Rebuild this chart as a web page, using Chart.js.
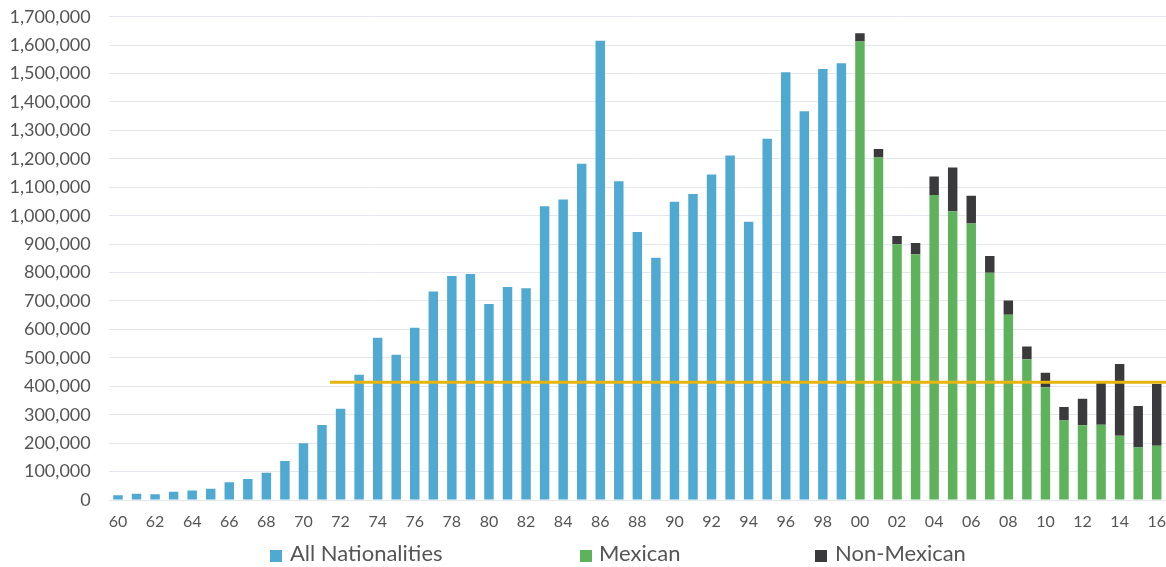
<!DOCTYPE html>
<html>
<head>
<meta charset="utf-8">
<script src="https://cdn.jsdelivr.net/npm/chart.js@4/dist/chart.umd.min.js"></script>
<style>
  html, body { margin: 0; padding: 0; background: #ffffff; }
  #wrap { position: relative; width: 1166px; height: 567px; }
  canvas { position: absolute; left: 0; top: 0; }
  .lg { position: absolute; top: 540px; font-family: Lato, "Open Sans", sans-serif; font-size: 22px; color: #555555; line-height: 26px; white-space: nowrap; }
  .lg i { position: absolute; top: 10px; width: 12px; height: 12px; }
</style>
</head>
<body>
<div id="wrap">
  <canvas id="c" width="1166" height="567"></canvas>
  <div class="lg" style="left:270px;"><i style="left:0;background:#4FA9D1;"></i><span style="margin-left:20px;">All Nationalities</span></div>
  <div class="lg" style="left:580px;"><i style="left:0;background:#5EB25B;"></i><span style="margin-left:19px;">Mexican</span></div>
  <div class="lg" style="left:815px;"><i style="left:0;background:#3A3A3D;"></i><span style="margin-left:20px;">Non-Mexican</span></div>
</div>
<script>
const years = ['60','61','62','63','64','65','66','67','68','69',
  '70','71','72','73','74','75','76','77','78','79',
  '80','81','82','83','84','85','86','87','88','89',
  '90','91','92','93','94','95','96','97','98','99',
  '00','01','02','03','04','05','06','07','08','09',
  '10','11','12','13','14','15','16'];

const allNationalities = [17000, 22000, 20000, 29000, 33000, 40000, 62000, 74000, 96000, 137000,
  200000, 264000, 321000, 441000, 571000, 511000, 606000, 733000, 788000, 795000,
  689000, 749000, 745000, 1033000, 1057000, 1183000, 1615000, 1121000, 943000, 852000,
  1049000, 1076000, 1145000, 1212000, 979000, 1271000, 1505000, 1367000, 1516000, 1536000,
  null, null, null, null, null, null, null, null, null, null,
  null, null, null, null, null, null, null];

const mexican = [null, null, null, null, null, null, null, null, null, null,
  null, null, null, null, null, null, null, null, null, null,
  null, null, null, null, null, null, null, null, null, null,
  null, null, null, null, null, null, null, null, null, null,
  1613000, 1205000, 900000, 864000, 1073000, 1016000, 973000, 799000, 652000, 495000,
  397000, 280000, 263000, 265000, 226000, 185000, 191000];

const nonMexican = [null, null, null, null, null, null, null, null, null, null,
  null, null, null, null, null, null, null, null, null, null,
  null, null, null, null, null, null, null, null, null, null,
  null, null, null, null, null, null, null, null, null, null,
  29000, 30000, 29000, 40000, 65000, 154000, 97000, 59000, 50000, 45000,
  51000, 47000, 93000, 149000, 252000, 146000, 217000];

const referenceLineValue = [414000, 414000];
const referenceLinePos = [11.43, 56.5];

const yTicksMax = 1700000;
const yTickStep = 100000;

const refLine = referenceLinePos.map((x, i) => ({ x: x, y: referenceLineValue[i] }));

const font = 'Lato, "Open Sans", sans-serif';

new Chart(document.getElementById('c'), {
  type: 'bar',
  data: {
    labels: years,
    datasets: [
      { label: 'All Nationalities', data: allNationalities, backgroundColor: '#4FA9D1', order: 1, stack: 'a' },
      { label: 'Mexican', data: mexican, backgroundColor: '#5EB25B', order: 1, stack: 'a' },
      { label: 'Non-Mexican', data: nonMexican, backgroundColor: '#3A3A3D', order: 1, stack: 'a' },
      { type: 'line', label: 'ref', data: refLine, xAxisID: 'x2', borderColor: '#E8B40E', borderWidth: 3,
        pointRadius: 0, fill: false, order: 0, stack: 'ref', tension: 0 }
    ]
  },
  options: {
    responsive: false,
    animation: false,
    layout: { padding: 0 },
    datasets: { bar: { grouped: false, categoryPercentage: 1, barPercentage: 0.51 } },
    plugins: { legend: { display: false }, tooltip: { enabled: false } },
    scales: {
      x: {
        stacked: true,
        grid: { display: false, drawTicks: false },
        border: { display: false },
        afterFit: (s) => { s.height = 67; s.paddingLeft = 0; s.paddingRight = 0; },
        ticks: {
          autoSkip: false, maxRotation: 0, minRotation: 0, padding: 12,
          color: '#555555', font: { family: font, size: 16 },
          callback: function (v, i) { return i % 2 === 0 ? years[i] : ''; }
        }
      },
      x2: { type: 'linear', display: false, offset: false, min: -0.5, max: 56.5 },
      y: {
        stacked: true,
        min: 0, max: yTicksMax,
        afterFit: (s) => { s.width = 108.7; s.paddingTop = 16.7; s.paddingBottom = 0; },
        grid: { color: '#E6E6EE', lineWidth: 1, drawTicks: false },
        border: { display: false },
        ticks: {
          stepSize: yTickStep, padding: 18, color: '#555555',
          font: { family: font, size: 18 },
          callback: (v) => v.toLocaleString('en-US')
        }
      }
    }
  }
});
</script>
</body>
</html>
